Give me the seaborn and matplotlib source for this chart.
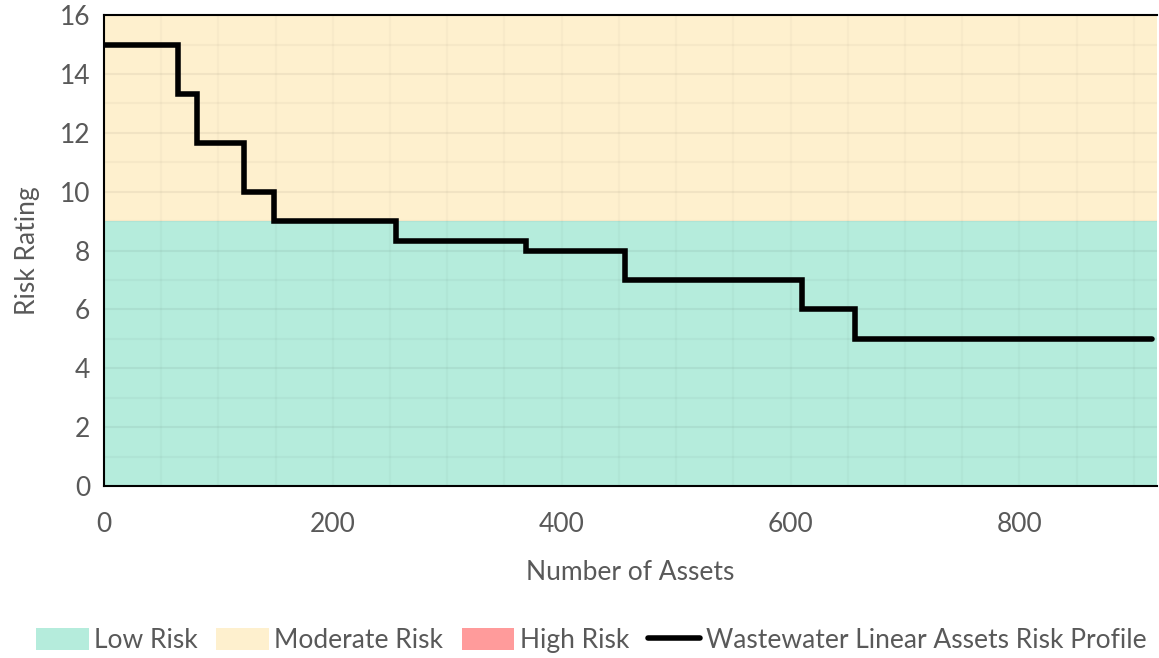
import numpy as np
import pandas as pd
import matplotlib
matplotlib.use("Agg")
import matplotlib.pyplot as plt
import seaborn as sns
from matplotlib.patches import Patch
from matplotlib.lines import Line2D
from matplotlib.ticker import MultipleLocator

# ---- data ----
assets = [0, 65, 81, 122, 149, 255, 369, 455, 610, 656, 916]
risk = [15, 13.33, 11.67, 10, 9, 8.33, 8, 7, 6, 5, 5]
series_name = "Wastewater Linear Assets Risk Profile"

band_names = ["Low Risk", "Moderate Risk", "High Risk"]
band_lower = [0, 9, 16]
band_upper = [9, 16, 25]
band_colors = ["#B5ECDC", "#FEF0CE", "#FF9B9B"]

x_label = "Number of Assets"
y_label = "Risk Rating"

sns.set_theme(style="white")
plt.rcParams['font.family'] = ['Lato', 'DejaVu Sans']

fig = plt.figure(figsize=(11.59, 6.58), dpi=100)
ax = fig.add_axes([0.0897, 0.2614, 0.9083, 0.7156])

for lo, hi, c in zip(band_lower, band_upper, band_colors):
    ax.axhspan(lo, hi, color=c, zorder=0, lw=0)

df = pd.DataFrame({"x": assets, "y": risk})
sns.lineplot(data=df, x="x", y="y", ax=ax, color="black", linewidth=4.0,
             drawstyle="steps-post", estimator=None, sort=False,
             solid_capstyle="round", solid_joinstyle="miter", zorder=3)

ax.set_xlim(0, 920)
ax.set_ylim(0, 16)
ax.xaxis.set_major_locator(MultipleLocator(200))
ax.xaxis.set_minor_locator(MultipleLocator(50))
ax.yaxis.set_major_locator(MultipleLocator(2))
ax.yaxis.set_minor_locator(MultipleLocator(1))

ax.grid(False)
ax.yaxis.grid(True, which="major", color="black", alpha=0.05, linewidth=1.6, zorder=1)
ax.yaxis.grid(True, which="minor", color="black", alpha=0.03, linewidth=1.6, zorder=1)
ax.xaxis.grid(True, which="both", color="black", alpha=0.025, linewidth=1.6, zorder=1)
ax.set_axisbelow(True)

for s in ["left", "bottom", "top"]:
    ax.spines[s].set_visible(True)
    ax.spines[s].set_color("black")
    ax.spines[s].set_linewidth(1.5)
ax.spines["right"].set_visible(False)

ax.tick_params(axis="both", which="major", direction="inout", length=10, width=1.5,
               color="black", labelsize=19, labelcolor="#595959", pad=5)
ax.tick_params(axis="both", which="minor", direction="out", length=5, width=1.5,
               color="black")
ax.tick_params(axis="x", which="major", pad=14)

ax.set_xlabel(x_label, fontsize=19, color="#595959", labelpad=16)
ax.set_ylabel(y_label, fontsize=19, color="#595959", labelpad=14)

handles = [Patch(facecolor=c, edgecolor="none") for c in band_colors]
handles.append(Line2D([0], [0], color="black", linewidth=4.0))
labels = band_names + [series_name]
fig.legend(handles, labels, loc="center", bbox_to_anchor=(0.51, 0.027), ncol=4,
           frameon=False, fontsize=19, labelcolor="#595959", handlelength=2.0,
           handleheight=0.9, handletextpad=0.2, columnspacing=0.7)

fig.savefig("out.png", dpi=100)
